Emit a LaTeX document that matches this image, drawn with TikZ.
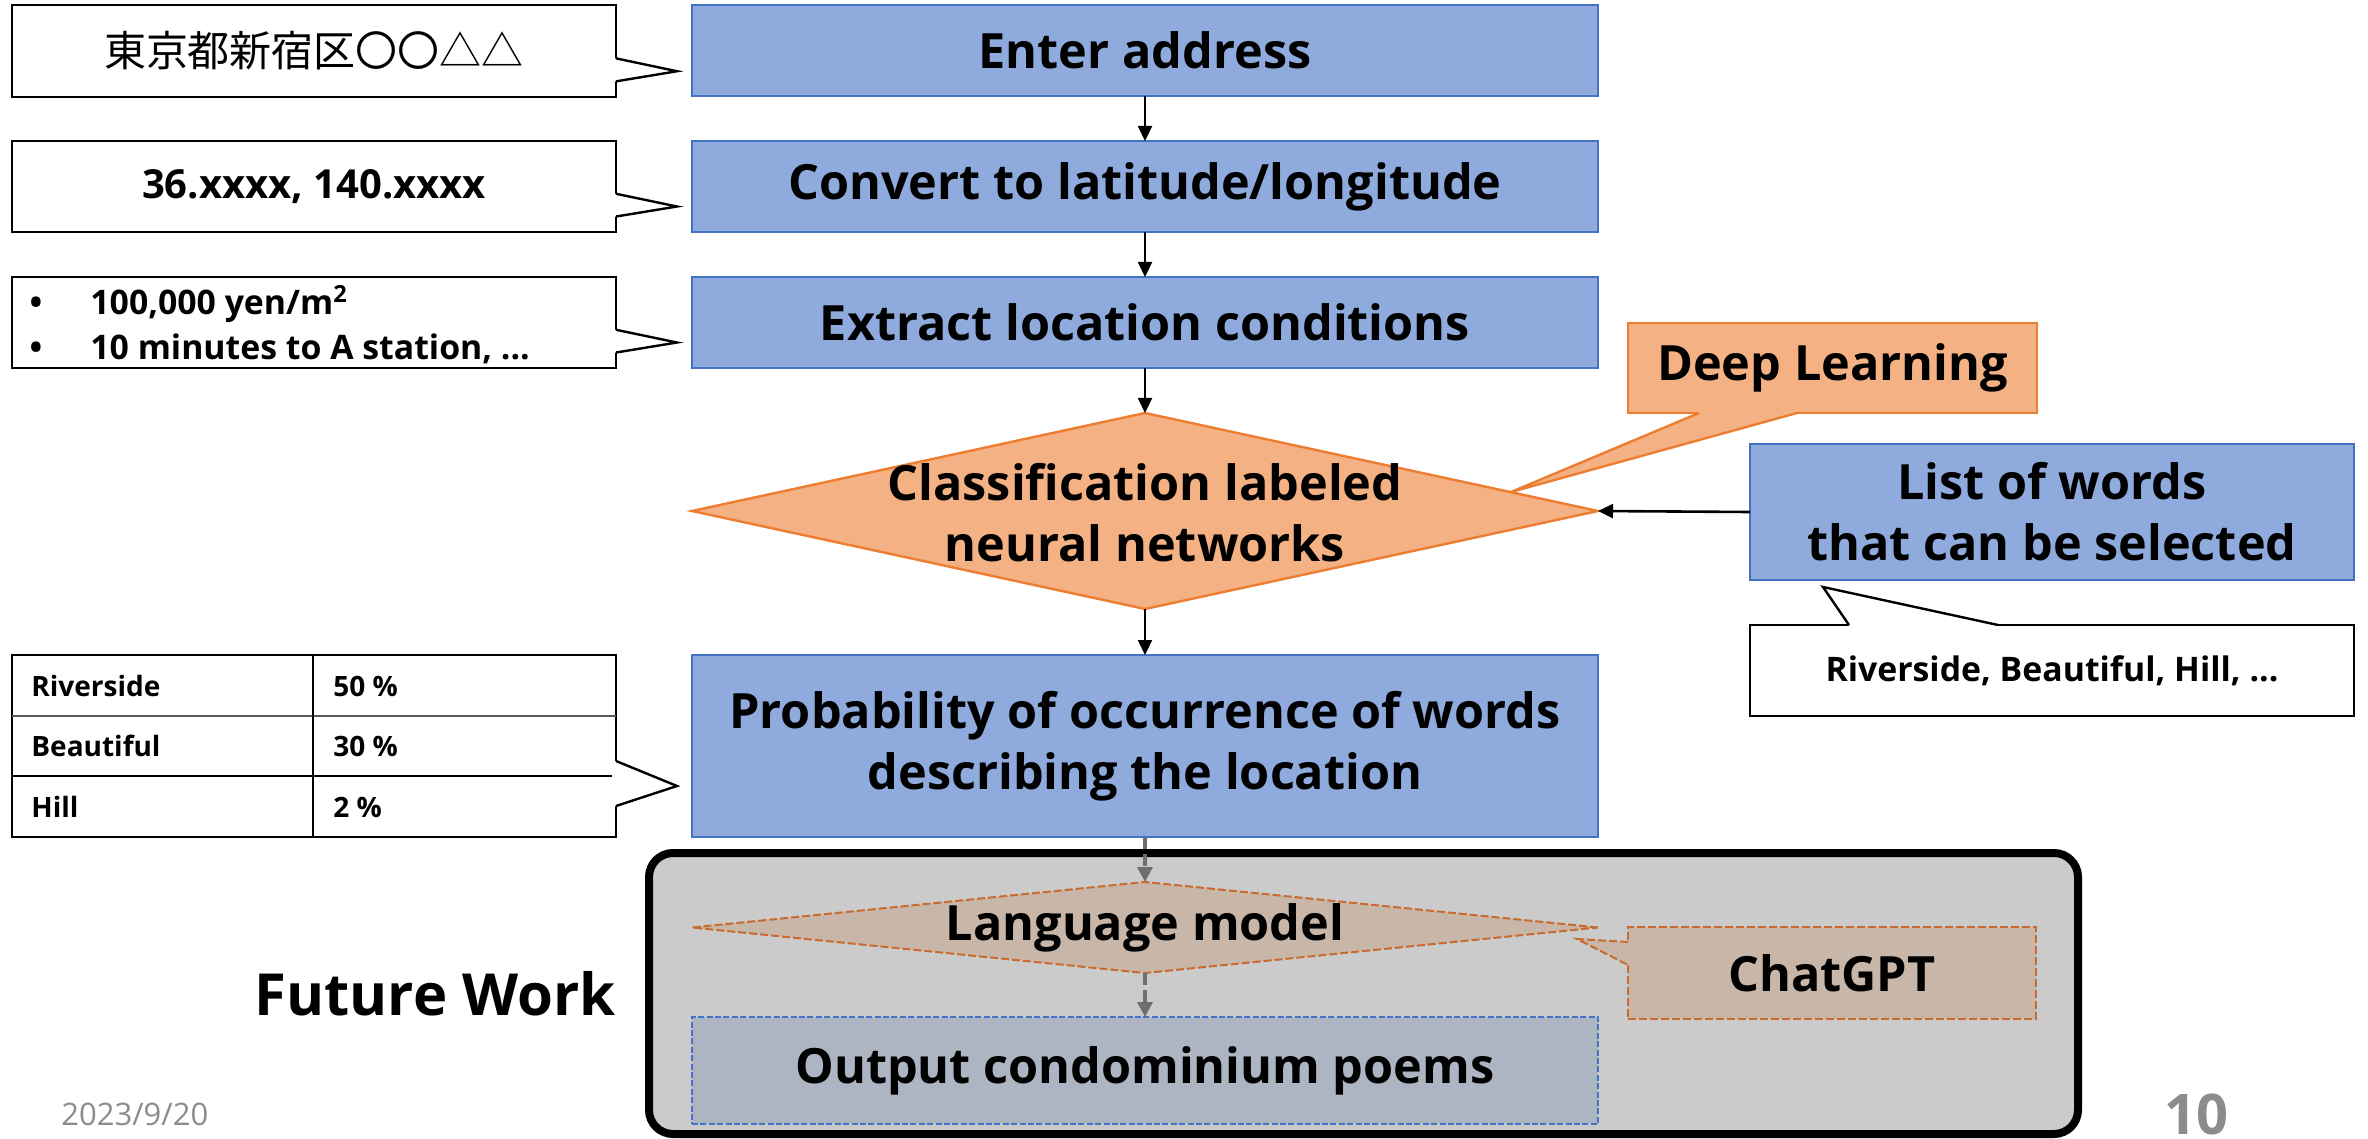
\documentclass[tikz,border=0pt]{standalone}
\usepackage{fontspec}
\setmainfont{Open Sans}
\newfontfamily\jpfont{Noto Sans CJK JP}
\usetikzlibrary{shapes.geometric,arrows.meta,calc}
\definecolor{bluefill}{HTML}{8FAADC}
\definecolor{blueline}{HTML}{4472C4}
\definecolor{orfill}{HTML}{F4B183}
\definecolor{orline}{HTML}{ED7D31}
\definecolor{grayarea}{HTML}{CBCBCB}
\definecolor{lmfill}{HTML}{C8B7A9}
\definecolor{lmline}{HTML}{C96A2E}
\definecolor{outfill}{HTML}{ADB4C2}
\definecolor{outborder}{HTML}{4472C4}
\definecolor{arrgray}{HTML}{6E6E6E}
\definecolor{textgray}{HTML}{8C8C8C}
\begin{document}
\begin{tikzpicture}[x=0.5pt,y=-0.5pt,
  mainfont/.style={font=\fontsize{24.3}{30.5}\selectfont\bfseries},
  bluebox/.style={draw=blueline, fill=bluefill, line width=1.2pt, minimum width=453pt, inner sep=0pt, outer sep=0pt, mainfont, align=center},
  flowarrow/.style={-{Triangle[length=7.5pt,width=7pt]}, line width=1.1pt, black},
  grayarrow/.style={-{Triangle[length=7.5pt,width=7.5pt]}, line width=1.6pt, arrgray, dash pattern=on 6pt off 2.5pt},
  callbox/.style={draw=black, line width=1.2pt, minimum width=302pt, inner sep=0pt, outer sep=0pt},
  calledge/.style={draw=black, line width=1.2pt},
  smalltext/.style={font=\fontsize{16.9}{22}\selectfont\bfseries},
  tabletext/.style={font=\fontsize{14}{18}\selectfont\bfseries},
]
\useasboundingbox (0,0) rectangle (2368,1139);

% ---------- main flow ----------
\node[bluebox, minimum height=45.5pt] (enter) at (1145,50.5) {Enter address};
\node[bluebox, minimum height=45.5pt] (convert) at (1145,186.5) {Convert to latitude/longitude};
\node[bluebox, minimum height=45.5pt] (extract) at (1145,322.5) {Extract location conditions};
\node[diamond, draw=orline, fill=orfill, line width=1.2pt, minimum width=453pt, minimum height=98pt, inner sep=0pt, outer sep=0pt] (cls) at (1145,511) {};
\node[mainfont, align=center] (clstext) at (1145,513) {Classification labeled\\neural networks};
\node[bluebox, minimum height=91pt] (prob) at (1145,746) {Probability of occurrence of words\\describing the location};

\draw[flowarrow] (enter) -- (convert);
\draw[flowarrow] (convert) -- (extract);
\draw[flowarrow] (extract) -- (cls.north);
\draw[flowarrow] (cls.south) -- (prob);

% ---------- future work area ----------
\node[draw=black, line width=4pt, fill=grayarea, rounded corners=12pt, minimum width=714.5pt, minimum height=140.5pt, inner sep=0pt] (fw) at (1363.5,993.5) {};
\node[diamond, draw=lmline, fill=lmfill, line width=1pt, dash pattern=on 4pt off 1.5pt, minimum width=453pt, minimum height=45.5pt, inner sep=0pt, outer sep=0pt] (lm) at (1145,927.5) {};
\node[mainfont] (lmtext) at (1145,927.5) {Language model};
\node[draw=outborder, fill=outfill, line width=0.9pt, dash pattern=on 3pt off 1.2pt, minimum width=453pt, minimum height=53.5pt, inner sep=0pt, outer sep=0pt, mainfont] (out) at (1145,1070.5) {Output condominium poems};
\draw[grayarrow] (prob) -- (lm.north);
\draw[grayarrow] (lm.south) -- (out);

% ChatGPT callout
\node[draw=lmline, fill=lmfill, line width=1pt, dash pattern=on 4pt off 1.5pt, minimum width=204pt, minimum height=46pt, inner sep=0pt, outer sep=0pt, mainfont] (gpt) at (1832,973) {ChatGPT};
\coordinate (gptA) at (1628,942);
\coordinate (gptB) at (1628,965);
\coordinate (gptTip) at (1577,939);
\fill[lmfill] ($(gptA)+(4,0)$) -- (gptA) -- (gptTip) -- (gptB) -- ($(gptB)+(4,0)$) -- cycle;
\draw[lmline, line width=1pt, dash pattern=on 4pt off 1.5pt] (gptA) -- (gptTip) -- (gptB);

\node[font=\fontsize{29}{36}\selectfont\bfseries, anchor=base east, inner sep=0pt] (future) at (616,1015) {Future Work};

% ---------- Deep Learning callout ----------
\node[draw=orline, fill=orfill, line width=1.2pt, minimum width=204.5pt, minimum height=45pt, inner sep=0pt, outer sep=0pt, mainfont] (dl) at (1832.5,368) {Deep Learning};
\coordinate (dlA) at (1699,413);
\coordinate (dlB) at (1797,413);
\coordinate (dlTip) at (1511,492);
\fill[orfill] ($(dlA)+(0,-4)$) -- (dlA) -- (dlTip) -- (dlB) -- ($(dlB)+(0,-4)$) -- cycle;
\draw[orline, line width=1.2pt] (dlA) -- (dlTip) -- (dlB);

% ---------- list of words ----------
\node[bluebox, minimum width=302pt, minimum height=68pt] (list) at (2052,512) {List of words\\that can be selected};
\draw[flowarrow, line width=1.3pt] (list.west) -- (cls.east);

\node[callbox, minimum height=45.5pt, smalltext] (rv) at (2052,670.5) {Riverside, Beautiful, Hill, ...};
\coordinate (rvA) at (1849,625);
\coordinate (rvB) at (1998,625);
\coordinate (rvTip) at (1823,587);
\fill[white] ($(rvA)+(0,4)$) -- (rvA) -- (rvTip) -- (rvB) -- ($(rvB)+(0,4)$) -- cycle;
\draw[calledge] (rvA) -- (rvTip) -- (rvB);

% ---------- left callouts ----------
\node[callbox, minimum height=46pt, font=\fontsize{21}{25}\selectfont\jpfont] (c1) at (314,51) {東京都新宿区〇〇△△};
\node[callbox, minimum height=45.5pt, font=\fontsize{20}{24}\selectfont\bfseries] (c2) at (314,186.5) {36.xxxx, 140.xxxx};
\node[callbox, minimum height=45.5pt] (c3) at (314,322.5) {};
\node[smalltext, anchor=base] (b1dot) at (36,315) {•};
\node[smalltext, anchor=base west, inner sep=0pt] (b1) at (90,315) {100,000 yen/m\textsuperscript{2}};
\node[smalltext, anchor=base] (b2dot) at (36,360) {•};
\node[smalltext, anchor=base west, inner sep=0pt] (b2) at (90,360) {10 minutes to A station, ...};

\foreach \c in {c1, c2, c3}{
  \coordinate (\c A) at ($(\c.north east)!0.58!(\c.south east)$);
  \coordinate (\c B) at ($(\c.north east)!0.83!(\c.south east)$);
  \coordinate (\c Tip) at ($(\c.north east)!0.72!(\c.south east)+(61,0)$);
  \fill[white] ($(\c A)+(-4,0)$) -- (\c A) -- (\c Tip) -- (\c B) -- ($(\c B)+(-4,0)$) -- cycle;
  \draw[calledge] (\c A) -- (\c Tip) -- (\c B);
}

% ---------- table ----------
\node[callbox, minimum height=91pt] (tbl) at (314,746) {};
\draw[gray!70!black, line width=0.9pt] (12,716) -- (616,716);
\draw[black, line width=0.9pt] (12,776) -- (616,776);
\draw[black, line width=0.7pt] (313,655) -- (313,837);
\node[tabletext, anchor=west, inner sep=0pt] (t11) at (31,686) {Riverside};
\node[tabletext, anchor=west, inner sep=0pt] (t12) at (333,686) {50 \%};
\node[tabletext, anchor=west, inner sep=0pt] (t21) at (31,746) {Beautiful};
\node[tabletext, anchor=west, inner sep=0pt] (t22) at (333,746) {30 \%};
\node[tabletext, anchor=west, inner sep=0pt] (t31) at (31,807) {Hill};
\node[tabletext, anchor=west, inner sep=0pt] (t32) at (333,807) {2 \%};
\coordinate (tA) at (616,761);
\coordinate (tB) at (616,806);
\coordinate (tTip) at (677,786);
\fill[white] ($(tA)+(-4,0)$) -- (tA) -- (tTip) -- (tB) -- ($(tB)+(-4,0)$) -- cycle;
\draw[calledge] (tA) -- (tTip) -- (tB);

% ---------- footer ----------
\node[font=\fontsize{15.5}{18}\selectfont, text=textgray, anchor=base west, inner sep=0pt] (date) at (61,1125) {2023/9/20};
\node[font=\fontsize{28}{32}\selectfont\bfseries, text=textgray, anchor=base east, inner sep=0pt] (page) at (2229,1134) {10};
\end{tikzpicture}
\end{document}
